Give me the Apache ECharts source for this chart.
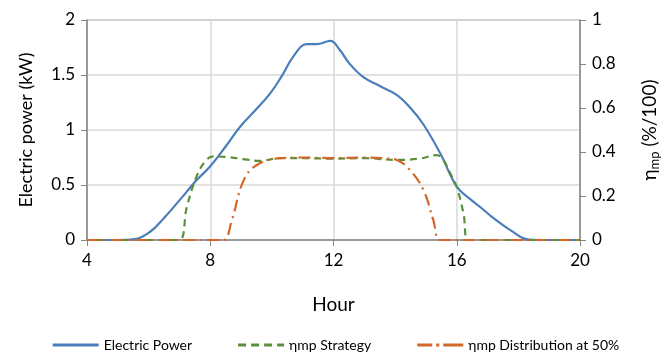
<!DOCTYPE html>
<html><head><meta charset="utf-8">
<script src="https://cdn.jsdelivr.net/npm/echarts@6/dist/echarts.min.js"></script>
<style>html,body{margin:0;padding:0;background:#fff}#c{width:672px;height:357px}</style>
</head><body><div id="c"></div>
<script>
const powerHours = [4, 5, 5.5, 6.05, 6.5, 7.0, 7.56, 8.0, 8.5, 8.97, 9.5, 9.94, 10.3, 10.7, 11.13, 11.45, 11.9, 12.2, 12.5, 12.97, 13.5, 14.05, 14.5, 14.92, 15.46, 16.0, 16.4, 16.76, 17.1, 17.5, 17.85, 18.17, 18.5, 19, 20];
const powerValues = [0, 0, 0.005, 0.075, 0.2, 0.36, 0.545, 0.67, 0.85, 1.03, 1.19, 1.33, 1.48, 1.67, 1.78, 1.78, 1.81, 1.73, 1.61, 1.48, 1.40, 1.32, 1.2, 1.05, 0.79, 0.485, 0.38, 0.30, 0.22, 0.136, 0.07, 0.015, 0.002, 0, 0];
const strategyHours = [4, 6.5, 7.0, 7.24, 7.56, 7.85, 8.1, 8.64, 9.2, 9.62, 10.27, 11, 12, 13, 14.05, 14.8, 15.35, 15.56, 15.8, 16.0, 16.22, 16.38, 17, 20];
const strategyValues = [0, 0, 0, 0.15, 0.29, 0.36, 0.38, 0.376, 0.365, 0.36, 0.372, 0.372, 0.37, 0.372, 0.364, 0.37, 0.386, 0.364, 0.3, 0.24, 0.12, 0, 0, 0];
const distributionHours = [4, 8, 8.43, 8.7, 9.08, 9.5, 10.27, 11, 12, 13, 13.6, 14.05, 14.48, 14.92, 15.24, 15.46, 16, 20];
const distributionValues = [0, 0, 0, 0.09, 0.27, 0.34, 0.372, 0.375, 0.372, 0.375, 0.372, 0.364, 0.318, 0.227, 0.09, 0, 0, 0];
const xTicks = [4, 8, 12, 16, 20];

const zip = (a, b) => a.map((h, i) => [h, b[i]]);
const font = 'Lato, "Open Sans", sans-serif';
const axisGray = '#868686';
const chart = echarts.init(document.getElementById('c'));
chart.setOption({
  animation: false,
  textStyle: { fontFamily: font, color: '#000' },
  grid: { left: 87, right: 92, top: 20, bottom: 117, show: true, borderColor: axisGray, borderWidth: 1 },
  xAxis: {
    type: 'value', min: xTicks[0], max: xTicks[xTicks.length - 1], interval: 4,
    name: 'Hour', nameLocation: 'middle', nameGap: 55,
    nameTextStyle: { fontSize: 19, color: '#000', fontFamily: font },
    axisLine: { lineStyle: { color: axisGray, width: 1.5 } },
    axisTick: { show: true, length: 6, lineStyle: { color: axisGray } },
    axisLabel: { fontSize: 17, color: '#000', margin: 12, fontFamily: font },
    splitLine: { show: true, lineStyle: { color: '#d9d9d9', width: 1.5 } }
  },
  yAxis: [{
    type: 'value', min: 0, max: 2, interval: 0.5,
    name: 'Electric power (kW)', nameLocation: 'middle', nameGap: 52,
    nameTextStyle: { fontSize: 18, color: '#000', fontFamily: font },
    axisLine: { show: true, lineStyle: { color: axisGray, width: 1.5 } },
    axisTick: { show: true, length: 6, lineStyle: { color: axisGray } },
    axisLabel: { fontSize: 17, color: '#000', margin: 12, fontFamily: font },
    splitLine: { show: true, lineStyle: { color: '#d9d9d9', width: 1.5 } }
  }, {
    type: 'value', min: 0, max: 1, interval: 0.2, position: 'right',
    name: '{a|η}{b|mp}{a| (%/100)}', nameLocation: 'middle', nameGap: 58, nameRotate: 90,
    nameTextStyle: {
      fontFamily: font, color: '#000',
      rich: {
        a: { fontSize: 19, color: '#000', fontFamily: font },
        b: { fontSize: 13, color: '#000', fontFamily: font, padding: [10, 0, 0, 0] }
      }
    },
    axisLine: { show: true, lineStyle: { color: axisGray, width: 1.5 } },
    axisTick: { show: true, length: 6, lineStyle: { color: axisGray } },
    axisLabel: { fontSize: 17, color: '#000', margin: 12, fontFamily: font },
    splitLine: { show: false }
  }],
  legend: {
    top: 333, left: 'center', itemWidth: 46, itemHeight: 3, itemGap: 46,
    textStyle: { fontSize: 14, color: '#000', fontFamily: font },
    data: [
      { name: 'Electric Power', icon: 'path://M0,0h46v3h-46z', itemStyle: { color: '#4a7ebb' } },
      { name: 'ηmp Strategy', icon: 'path://M0,0h8v3h-8z M13,0h8v3h-8z M26,0h8v3h-8z M39,0h7v3h-7z', itemStyle: { color: '#5a8f3c' } },
      { name: 'ηmp Distribution at 50%', icon: 'path://M0,0h15v3h-15z M19,0h3v3h-3z M26,0h20v3h-20z', itemStyle: { color: '#d4662a' } }
    ]
  },
  series: [{
    name: 'Electric Power', type: 'line', yAxisIndex: 0, smooth: 0.4, symbol: 'none',
    data: zip(powerHours, powerValues),
    lineStyle: { color: '#4a7ebb', width: 2.2 }, itemStyle: { color: '#4a7ebb' }
  }, {
    name: 'ηmp Strategy', type: 'line', yAxisIndex: 1, smooth: 0.4, symbol: 'none',
    data: zip(strategyHours, strategyValues),
    lineStyle: { color: '#5a8f3c', width: 2.2, type: [7, 5] }, itemStyle: { color: '#5a8f3c' }
  }, {
    name: 'ηmp Distribution at 50%', type: 'line', yAxisIndex: 1, smooth: 0.4, symbol: 'none',
    data: zip(distributionHours, distributionValues),
    lineStyle: { color: '#d4662a', width: 2.2, type: [12, 5, 2, 5] }, itemStyle: { color: '#d4662a' }
  }]
});
</script></body></html>
